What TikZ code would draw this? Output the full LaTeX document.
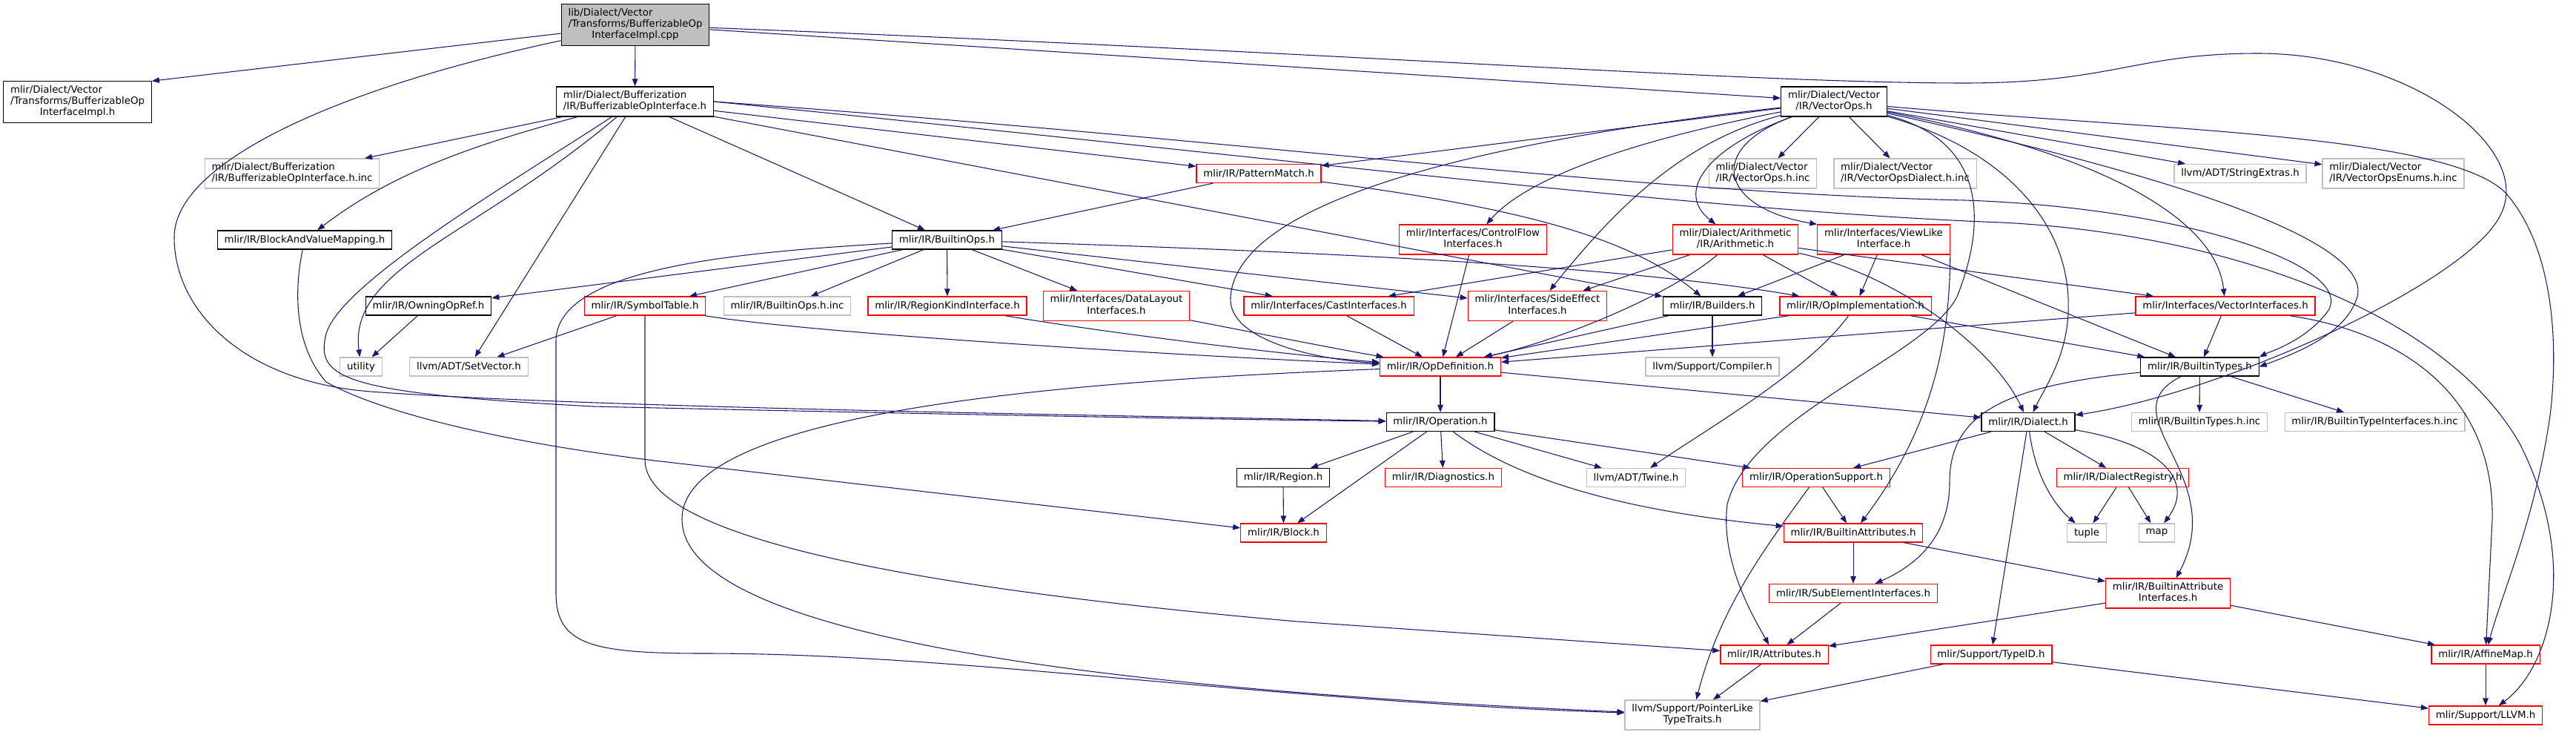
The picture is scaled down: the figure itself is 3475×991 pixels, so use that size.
\documentclass[tikz,border=0pt]{standalone}
\usepackage{fontspec}
\setmainfont{DejaVu Sans}
\usetikzlibrary{arrows.meta}
\definecolor{midnight}{HTML}{191970}
\definecolor{grey75}{HTML}{BFBFBF}
\newcommand{\flines}[2]{\begin{tabular}{@{}l@{}}#1\\\multicolumn{1}{@{}c@{}}{#2}\end{tabular}}

\begin{document}
\begin{tikzpicture}[x=0.75pt,y=-0.75pt,font=\fontsize{10}{11.5}\selectfont,
  filebox/.style={draw,fill=white,line width=0.9pt,inner xsep=7pt,inner ysep=4.5pt,minimum height=18.75pt},
  docbox/.style={filebox,draw=black},
  extbox/.style={filebox,draw=grey75},
  cutbox/.style={filebox,draw=red},
  topbox/.style={filebox,draw=black,fill=grey75},
  mlines/.style={inner ysep=3.5pt},
  inc/.style={draw=midnight,line width=0.8pt,-{Triangle[length=7.5pt,width=5.6pt]}}]
\useasboundingbox (0,0) rectangle (3475,991);

% files
\node[topbox,mlines] (cpp) at (857,33.5) {\flines{lib/Dialect/Vector\\/Transforms/BufferizableOp}{InterfaceImpl.cpp}};
\node[docbox,mlines] (implh) at (104.5,137.5) {\flines{mlir/Dialect/Vector\\/Transforms/BufferizableOp}{InterfaceImpl.h}};
\node[docbox,mlines] (bufop) at (856.5,137) {\flines{mlir/Dialect/Bufferization}{/IR/BufferizableOpInterface.h}};
\node[docbox,mlines] (vectorops) at (2474,137) {\flines{mlir/Dialect/Vector}{/IR/VectorOps.h}};
\node[extbox,mlines] (bufinc) at (394,234) {\flines{mlir/Dialect/Bufferization}{/IR/BufferizableOpInterface.h.inc}};
\node[cutbox] (patmatch) at (1698,234) {mlir/IR/PatternMatch.h};
\node[extbox,mlines] (vopsinc) at (2378,234) {\flines{mlir/Dialect/Vector}{/IR/VectorOps.h.inc}};
\node[extbox,mlines] (vopsdialinc) at (2570,234) {\flines{mlir/Dialect/Vector}{/IR/VectorOpsDialect.h.inc}};
\node[extbox] (stringextras) at (3022,234) {llvm/ADT/StringExtras.h};
\node[extbox,mlines] (vopsenum) at (3228.5,234) {\flines{mlir/Dialect/Vector}{/IR/VectorOpsEnums.h.inc}};
\node[docbox] (bvmap) at (411,323.5) {mlir/IR/BlockAndValueMapping.h};
\node[docbox] (builtinops) at (1277.5,323.5) {mlir/IR/BuiltinOps.h};
\node[cutbox,mlines] (controlflow) at (1987,323) {\flines{mlir/Interfaces/ControlFlow}{Interfaces.h}};
\node[cutbox,mlines] (arith) at (2341,323) {\flines{mlir/Dialect/Arithmetic}{/IR/Arithmetic.h}};
\node[cutbox,mlines] (viewlike) at (2541,323) {\flines{mlir/Interfaces/ViewLike}{Interface.h}};
\node[docbox] (owning) at (578,412.5) {mlir/IR/OwningOpRef.h};
\node[cutbox] (symtab) at (870,412.5) {mlir/IR/SymbolTable.h};
\node[extbox] (builtinopsinc) at (1062,412.5) {mlir/IR/BuiltinOps.h.inc};
\node[cutbox] (regionkind) at (1278,412.5) {mlir/IR/RegionKindInterface.h};
\node[cutbox,mlines] (datalayout) at (1506,412.5) {\flines{mlir/Interfaces/DataLayout}{Interfaces.h}};
\node[cutbox] (castintf) at (1792.5,412.5) {mlir/Interfaces/CastInterfaces.h};
\node[cutbox,mlines] (sideeffect) at (2074,412.5) {\flines{mlir/Interfaces/SideEffect}{Interfaces.h}};
\node[docbox] (builders) at (2310,412.5) {mlir/IR/Builders.h};
\node[cutbox] (opimpl) at (2503,412.5) {mlir/IR/OpImplementation.h};
\node[cutbox] (vectorintf) at (3002,412.5) {mlir/Interfaces/VectorInterfaces.h};
\node[extbox] (utility) at (487,494.5) {utility};
\node[extbox] (setvec) at (632.5,494.5) {llvm/ADT/SetVector.h};
\node[cutbox] (opdef) at (1943,494.5) {mlir/IR/OpDefinition.h};
\node[extbox] (compiler) at (2310,494.5) {llvm/Support/Compiler.h};
\node[docbox] (builtintypes) at (2967.5,494.5) {mlir/IR/BuiltinTypes.h};
\node[docbox] (operation) at (1943,569) {mlir/IR/Operation.h};
\node[docbox] (dialect) at (2736,569) {mlir/IR/Dialect.h};
\node[extbox] (builtintypesinc) at (2967,569) {mlir/IR/BuiltinTypes.h.inc};
\node[extbox] (builtintypeintfinc) at (3203.5,569) {mlir/IR/BuiltinTypeInterfaces.h.inc};
\node[docbox] (region) at (1731,644) {mlir/IR/Region.h};
\node[cutbox] (diagnostics) at (1947,644) {mlir/IR/Diagnostics.h};
\node[extbox] (twine) at (2207,644) {llvm/ADT/Twine.h};
\node[cutbox] (opsupport) at (2450,644) {mlir/IR/OperationSupport.h};
\node[cutbox] (dialreg) at (2863.5,644) {mlir/IR/DialectRegistry.h};
\node[cutbox] (block) at (1731.5,718.5) {mlir/IR/Block.h};
\node[cutbox] (builtinattrs) at (2500,718.5) {mlir/IR/BuiltinAttributes.h};
\node[extbox] (tuple) at (2815,718.5) {tuple};
\node[extbox] (map) at (2909.5,718.5) {map};
\node[cutbox] (subelem) at (2500,800) {mlir/IR/SubElementInterfaces.h};
\node[cutbox,mlines] (battrintf) at (2924.5,800) {\flines{mlir/IR/BuiltinAttribute}{Interfaces.h}};
\node[cutbox] (attributes) at (2393.5,882.5) {mlir/IR/Attributes.h};
\node[cutbox] (typeid) at (2686,882.5) {mlir/Support/TypeID.h};
\node[cutbox] (affinemap) at (3353,882.5) {mlir/IR/AffineMap.h};
\node[extbox,mlines] (ptrlike) at (2283,964) {\flines{llvm/Support/PointerLike}{TypeTraits.h}};
\node[cutbox] (llvmh) at (3353,964.5) {mlir/Support/LLVM.h};

% includes
\draw[inc] (cpp) -- (implh.north east);
\draw[inc] (cpp) -- (bufop);
\draw[inc] (cpp) -- (vectorops);
\draw[inc] (cpp) .. controls (1800,70) and (2350,112) .. (2650,112) .. controls (2850,112) and (2880,72) .. (3046,72) .. controls (3250,72) and (3420,200) .. (3373,290) .. controls (3330,380) and (3000,530) .. (dialect);
\draw[inc] (cpp) .. controls (450,120) and (235,220) .. (235,320) .. controls (235,420) and (330,515) .. (500,528) .. controls (800,550) and (1500,560) .. (operation);

\draw[inc] (bufop) -- (bufinc);
\draw[inc] (bufop) .. controls (620,200) and (520,240) .. (bvmap);
\draw[inc] (bufop) .. controls (700,240) and (460,380) .. (440,450) .. controls (425,510) and (460,530) .. (800,548) .. controls (1100,555) and (1600,565) .. (operation);
\draw[inc] (bufop) .. controls (640,320) and (470,360) .. (utility);
\draw[inc] (bufop) -- (setvec);
\draw[inc] (bufop) -- (builtinops);
\draw[inc] (bufop) -- (patmatch);
\draw[inc] (bufop) -- (builders);
\draw[inc] (bufop.east) .. controls (1700,190) and (2200,260) .. (2650,270) .. controls (2950,280) and (3180,360) .. (3140,420) .. controls (3110,460) and (3060,475) .. (builtintypes.north east);
\draw[inc] (bufop.east) .. controls (1700,210) and (2300,285) .. (2700,300) .. controls (3000,315) and (3300,420) .. (3400,600) .. controls (3480,760) and (3440,900) .. (llvmh);

\draw[inc] (vectorops) -- (patmatch);
\draw[inc] (vectorops) .. controls (2000,190) and (1670,270) .. (1660,400) .. controls (1655,460) and (1780,485) .. (opdef);
\draw[inc] (vectorops) .. controls (2200,190) and (2060,240) .. (controlflow);
\draw[inc] (vectorops) .. controls (2270,190) and (2180,280) .. (sideeffect);
\draw[inc] (vectorops) .. controls (2300,200) and (2260,260) .. (arith);
\draw[inc] (vectorops) .. controls (2300,200) and (2320,280) .. (viewlike.north west);
\draw[inc] (vectorops) -- (vopsinc);
\draw[inc] (vectorops) -- (vopsdialinc);
\draw[inc] (vectorops) -- (stringextras);
\draw[inc] (vectorops) -- (vopsenum);
\draw[inc] (vectorops) .. controls (2850,210) and (2990,300) .. (vectorintf);
\draw[inc] (vectorops) .. controls (2900,230) and (3200,320) .. (3180,400) .. controls (3165,450) and (3100,475) .. (builtintypes.east);
\draw[inc] (vectorops) .. controls (2900,175) and (3300,180) .. (3380,260) .. controls (3450,340) and (3450,480) .. (3440,560) .. controls (3420,700) and (3375,800) .. (affinemap);
\draw[inc] (vectorops) .. controls (2700,200) and (2795,300) .. (2790,420) .. controls (2788,480) and (2760,520) .. (dialect);
\draw[inc] (vectorops) .. controls (2680,190) and (2680,300) .. (2640,400) .. controls (2600,480) and (2360,560) .. (2330,680) .. controls (2320,760) and (2370,840) .. (attributes);

\draw[inc] (patmatch) -- (builtinops);
\draw[inc] (patmatch) .. controls (2050,280) and (2200,320) .. (builders);

\draw[inc] (builtinops) -- (owning);
\draw[inc] (builtinops) -- (symtab);
\draw[inc] (builtinops) -- (builtinopsinc);
\draw[inc] (builtinops) -- (regionkind);
\draw[inc] (builtinops) -- (datalayout);
\draw[inc] (builtinops) -- (castintf);
\draw[inc] (builtinops) -- (sideeffect);
\draw[inc] (builtinops) .. controls (1800,340) and (2200,360) .. (opimpl);
\draw[inc] (builtinops) .. controls (1000,340) and (750,360) .. (750,460) -- (750,800) .. controls (750,870) and (800,881) .. (950,881) .. controls (1300,881) and (1700,945) .. (ptrlike);

\draw[inc] (symtab) -- (setvec);
\draw[inc] (symtab) .. controls (1100,450) and (1600,480) .. (opdef);
\draw[inc] (symtab) -- (870,620) .. controls (870,720) and (1200,790) .. (1750,838) -- (attributes);
\draw[inc] (owning) -- (utility);
\draw[inc] (bvmap) .. controls (395,400) and (400,470) .. (440,515) .. controls (520,560) and (700,600) .. (900,623) -- (block);

\draw[inc] (regionkind) .. controls (1500,450) and (1750,480) .. (opdef);
\draw[inc] (datalayout) .. controls (1700,450) and (1800,470) .. (opdef);
\draw[inc] (castintf) -- (opdef);
\draw[inc] (controlflow) -- (opdef);
\draw[inc] (sideeffect) -- (opdef);

\draw[inc] (arith) -- (castintf);
\draw[inc] (arith) -- (sideeffect);
\draw[inc] (arith) .. controls (2250,400) and (2100,460) .. (opdef);
\draw[inc] (arith) -- (opimpl);
\draw[inc] (arith) -- (vectorintf);
\draw[inc] (arith) .. controls (2560,370) and (2690,470) .. (dialect);

\draw[inc] (viewlike) -- (builders);
\draw[inc] (viewlike) -- (opimpl);
\draw[inc] (viewlike) -- (builtintypes);
\draw[inc] (viewlike.south east) .. controls (2630,430) and (2620,560) .. (builtinattrs);

\draw[inc] (builders) -- (opdef);
\draw[inc] (builders) -- (compiler);
\draw[inc] (opimpl) -- (opdef);
\draw[inc] (opimpl) .. controls (2440,500) and (2300,580) .. (twine);
\draw[inc] (opimpl) -- (builtintypes);
\draw[inc] (vectorintf) -- (opdef);
\draw[inc] (vectorintf) -- (builtintypes);
\draw[inc] (vectorintf) .. controls (3250,450) and (3365,540) .. (3362,700) -- (affinemap);

\draw[inc] (opdef) -- (operation);
\draw[inc] (opdef) -- (dialect);
\draw[inc] (opdef) .. controls (1400,515) and (920,560) .. (920,700) .. controls (920,860) and (1500,930) .. (ptrlike);

\draw[inc] (builtintypes) -- (builtintypesinc);
\draw[inc] (builtintypes) -- (builtintypeintfinc);
\draw[inc] (builtintypes) .. controls (2840,560) and (3010,640) .. (battrintf);
\draw[inc] (builtintypes) .. controls (2700,520) and (2630,560) .. (2630,650) .. controls (2630,720) and (2590,760) .. (subelem);

\draw[inc] (operation) -- (region);
\draw[inc] (operation) -- (block);
\draw[inc] (operation) -- (diagnostics);
\draw[inc] (operation) -- (twine);
\draw[inc] (operation) -- (opsupport);
\draw[inc] (operation) .. controls (2050,650) and (2200,690) .. (builtinattrs);
\draw[inc] (region) -- (block);

\draw[inc] (dialect) -- (opsupport);
\draw[inc] (dialect) -- (typeid);
\draw[inc] (dialect) -- (dialreg);
\draw[inc] (dialect) .. controls (2745,640) and (2770,680) .. (tuple);
\draw[inc] (dialect) .. controls (2920,600) and (2960,650) .. (map);
\draw[inc] (dialreg) -- (tuple);
\draw[inc] (dialreg) -- (map);

\draw[inc] (opsupport) -- (builtinattrs);
\draw[inc] (opsupport) .. controls (2380,740) and (2320,820) .. (ptrlike);
\draw[inc] (builtinattrs) -- (subelem);
\draw[inc] (builtinattrs) -- (battrintf);
\draw[inc] (subelem) -- (attributes);
\draw[inc] (battrintf) -- (attributes);
\draw[inc] (battrintf) -- (affinemap);
\draw[inc] (attributes) -- (ptrlike);
\draw[inc] (typeid) -- (ptrlike);
\draw[inc] (typeid) -- (llvmh);
\draw[inc] (affinemap) -- (llvmh);
\end{tikzpicture}
\end{document}
